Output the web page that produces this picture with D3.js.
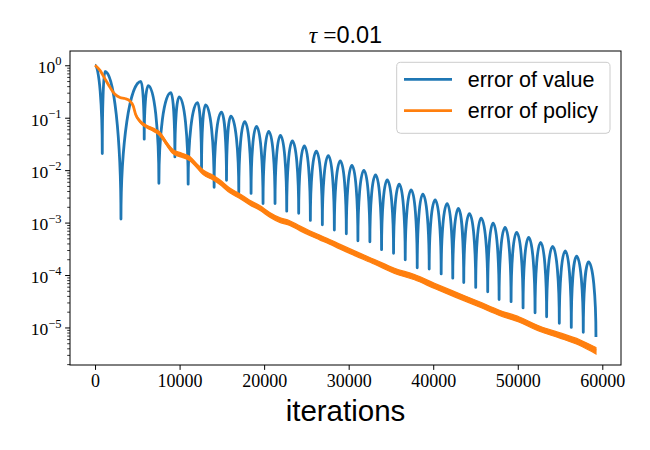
<!DOCTYPE html>
<html><head><meta charset="utf-8">
<script src="https://cdn.jsdelivr.net/npm/d3@7"></script>
<style>body{margin:0;background:#fff} svg{display:block}</style>
</head><body><svg id="c" width="650" height="450"></svg>
<script>
// ---- data ----
const seriesNames = ["error of value", "error of policy"];
const seriesColors = ["#1f77b4", "#ff7f0e"];

// error of value: successive extremes (peak, dip, peak, dip, ...)
const valueIter = [0, 857, 1176, 3065, 5428, 5817, 6290, 7553, 8971, 9444, 9952, 11014, 12125, 12597,
  13069, 14085, 14958, 15549, 16057, 17002, 17712, 18455, 19092, 19872, 20545, 21289, 21927, 22671,
  23344, 24088, 24761, 25469, 26178, 26887, 27596, 28305, 29013, 29722, 30383, 31092, 31801, 32509,
  33182, 33891, 34564, 35308, 35981, 36690, 37399, 38107, 38769, 39524, 40233, 40942, 41651, 42312,
  42985, 43611, 44284, 45028, 45666, 46445, 47083, 47792, 48500, 49209, 49871, 50627, 51288, 52044,
  52705, 53414, 54123, 54914, 55622, 56331, 56957, 57749, 58374, 59248];
const valueErr = [1.0, 0.0207, 0.76, 1.17e-3, 0.49, 0.039, 0.41, 5.6e-3, 0.30, 0.0179, 0.25, 5.4e-3, 0.194, 0.011,
  0.175, 4.7e-3, 0.128, 6.4e-3, 0.107, 3.8e-3, 0.084, 3.6e-3, 0.068, 2.3e-3, 0.055, 2.3e-3, 0.046, 1.65e-3,
  0.036, 1.5e-3, 0.029, 1.1e-3, 0.023, 9.1e-4, 0.019, 7.2e-4, 0.015, 6.1e-4, 0.0123, 4.5e-4, 9.9e-3, 4.3e-4,
  8.1e-3, 3.05e-4, 6.5e-3, 2.6e-4, 5.4e-3, 1.95e-4, 4.2e-3, 1.37e-4, 3.5e-3, 1.3e-4, 2.7e-3, 1.05e-4, 2.3e-3, 8.7e-5,
  1.86e-3, 7.2e-5, 1.48e-3, 5.8e-5, 1.22e-3, 4.8e-5, 9.8e-4, 3.4e-5, 8.1e-4, 3.1e-5, 6.5e-4, 2.36e-5, 5.2e-4, 1.9e-5,
  4.2e-4, 1.6e-5, 3.5e-4, 1.2e-5, 2.9e-4, 1.0e-5, 2.3e-4, 8.1e-6, 1.77e-4, 6.6e-6];

// error of policy: centre of the (noisy) curve and half-thickness of its noise band (decades)
const policyIter = [0, 585, 1176, 1766, 2357, 2947, 3538, 4128, 4518, 4805, 5310, 6100, 6880, 7671, 8462,
  9242, 10234, 11215, 12006, 12786, 13968, 14758, 15939, 17120, 18301, 19482, 20663, 21844, 23025, 24206,
  25388, 26569, 27750, 28931, 30702, 33064, 35427, 37789, 40151, 42513, 45465, 47827, 50190, 52552, 54914,
  57276, 59248];
const policyErr = [1.0, 0.80, 0.55, 0.38, 0.28, 0.243, 0.232, 0.209, 0.167, 0.115, 0.0855, 0.068, 0.059, 0.049, 0.032,
  0.0224, 0.0193, 0.0166, 0.0123, 0.0091, 0.0072, 0.0059, 0.0041, 0.0032, 0.0024, 0.0019, 0.00141, 0.00112, 0.00098, 0.00078,
  0.00063, 0.00052, 0.00043, 0.00035, 0.00026, 0.000178, 0.00012, 9.1e-5, 6.2e-5, 4.3e-5, 2.75e-5, 1.9e-5, 1.41e-5, 9.5e-6, 7.1e-6,
  5.2e-6, 3.6e-6];
const policySpread = [0, 0, 0, 0, 0, 0, 0, 0, 0.008, 0.015, 0.02, 0.025, 0.03, 0.035, 0.035,
  0.04, 0.04, 0.04, 0.04, 0.045, 0.045, 0.045, 0.045, 0.045, 0.045, 0.045, 0.045, 0.045, 0.045, 0.045,
  0.045, 0.045, 0.045, 0.045, 0.045, 0.045, 0.05, 0.05, 0.05, 0.05, 0.05, 0.05, 0.05, 0.05, 0.05,
  0.055, 0.06];

const xTickValues = [0, 10000, 20000, 30000, 40000, 50000, 60000];
const yTickExponents = [0, -1, -2, -3, -4, -5];
const titleParts = ["τ", " =", "0.01"];
const xLabel = "iterations";

// ---- layout ----
const L = 70, R = 621, T = 51, B = 365;
const svg = d3.select("#c");

const allIter = valueIter.concat(policyIter);
const xmin = d3.min(allIter), xmax = d3.max(allIter), xpad = 0.05 * (xmax - xmin);
const x = d3.scaleLinear().domain([xmin - xpad, xmax + xpad]).range([L, R]);

const allErr = valueErr.concat(policyErr);
const lmin = Math.log10(d3.min(allErr)), lmax = Math.log10(d3.max(allErr)), lpad = 0.05 * (lmax - lmin);
const y = d3.scaleLog().domain([Math.pow(10, lmin - lpad), Math.pow(10, lmax + lpad)]).range([B, T]);

svg.append("defs").append("clipPath").attr("id", "clip")
  .append("rect").attr("x", L).attr("y", T).attr("width", R - L).attr("height", B - T);

// arch curve: quarter-ellipse-like segments between extremes
function archCurve(context) {
  let px, py, i = 0;
  const k = 0.5523;
  return {
    areaStart() {}, areaEnd() {},
    lineStart() { i = 0; },
    lineEnd() {},
    point(xx, yy) {
      if (i === 0) context.moveTo(xx, yy);
      else if (yy < py) context.bezierCurveTo(px, py + k * (yy - py), xx - k * (xx - px), yy, xx, yy);
      else context.bezierCurveTo(px + k * (xx - px), py, xx, yy - k * (yy - py), xx, yy);
      px = xx; py = yy; i++;
    }
  };
}

const plot = svg.append("g").attr("clip-path", "url(#clip)");

const valuePts = valueIter.map((d, i) => [d, valueErr[i]]);
plot.append("path")
  .attr("d", d3.line().x(d => x(d[0])).y(d => y(d[1])).curve(archCurve)(valuePts))
  .attr("fill", "none").attr("stroke", seriesColors[0]).attr("stroke-width", 2.8)
  .attr("stroke-linejoin", "round").attr("stroke-linecap", "butt");

const policyPts = policyIter.map((d, i) => [d, policyErr[i], policySpread[i]]);
plot.append("path")
  .attr("d", d3.area().x(d => x(d[0]))
    .y0(d => y(d[1] / Math.pow(10, d[2])))
    .y1(d => y(d[1] * Math.pow(10, d[2])))
    .curve(d3.curveMonotoneX)(policyPts))
  .attr("fill", seriesColors[1]).attr("stroke", seriesColors[1]).attr("stroke-width", 1.2);
plot.append("path")
  .attr("d", d3.line().x(d => x(d[0])).y(d => y(d[1])).curve(d3.curveMonotoneX)(policyPts))
  .attr("fill", "none").attr("stroke", seriesColors[1]).attr("stroke-width", 2.8)
  .attr("stroke-linecap", "butt");

// ---- axes ----
const serif = "'Liberation Serif', 'DejaVu Serif', serif";
const sans = "'Liberation Sans', Arial, sans-serif";

const gx = svg.append("g").attr("transform", `translate(0,${B})`)
  .call(d3.axisBottom(x).tickValues(xTickValues).tickSize(4.9).tickPadding(4).tickFormat(d => String(d)));
gx.select(".domain").remove();
gx.selectAll("line").attr("stroke-width", 1);
gx.selectAll("text").attr("font-family", serif).attr("font-size", 18).attr("fill", "#000");

const yMajors = yTickExponents.map(e => Math.pow(10, e));
const gy = svg.append("g").attr("transform", `translate(${L},0)`)
  .call(d3.axisLeft(y).tickValues(yMajors).tickSize(4.9).tickPadding(3.5).tickFormat(""));
gy.select(".domain").remove();
gy.selectAll("line").attr("stroke-width", 1);
gy.selectAll(".tick text").each(function(d, i) {
  const t = d3.select(this).attr("font-family", serif).attr("font-size", 17.5).attr("fill", "#000").attr("dy", "0.42em");
  const e = yTickExponents[i];
  t.append("tspan").text("10");
  t.append("tspan").attr("font-size", 12.5).attr("dy", "-0.62em").text(e === 0 ? "0" : "\u2212" + Math.abs(e));
});

const [dLo, dHi] = y.domain();
const minors = [];
for (let e = Math.floor(Math.log10(dLo)); e <= Math.ceil(Math.log10(dHi)); e++)
  for (let m = 2; m <= 9; m++) { const v = m * Math.pow(10, e); if (v >= dLo && v <= dHi) minors.push(v); }
const gym = svg.append("g").attr("transform", `translate(${L},0)`)
  .call(d3.axisLeft(y).tickValues(minors).tickSize(2.8).tickFormat(""));
gym.select(".domain").remove();
gym.selectAll("line").attr("stroke-width", 0.8);

// frame
svg.append("rect").attr("x", L).attr("y", T).attr("width", R - L).attr("height", B - T)
  .attr("fill", "none").attr("stroke", "#000").attr("stroke-width", 1);

// title
const title = svg.append("text").attr("x", (L + R) / 2).attr("y", 43).attr("text-anchor", "middle")
  .attr("font-size", 23.5).attr("fill", "#000");
title.append("tspan").attr("font-family", serif).attr("font-style", "italic").text(titleParts[0]);
title.append("tspan").attr("font-family", serif).text(titleParts[1]);
title.append("tspan").attr("font-family", sans).text(titleParts[2]);

// x label
svg.append("text").attr("x", (L + R) / 2).attr("y", 421).attr("text-anchor", "middle")
  .attr("font-family", sans).attr("font-size", 29.5).attr("fill", "#000").text(xLabel);

// legend
const lg = svg.append("g");
lg.append("rect").attr("x", 396.7).attr("y", 62.3).attr("width", 213.3).attr("height", 71).attr("rx", 4)
  .attr("fill", "#fff").attr("fill-opacity", 0.8).attr("stroke", "#cccccc").attr("stroke-width", 1);
seriesNames.forEach((n, i) => {
  const yy = 79.3 + i * 31.4;
  lg.append("line").attr("x1", 404).attr("x2", 452).attr("y1", yy).attr("y2", yy)
    .attr("stroke", seriesColors[i]).attr("stroke-width", 2.8);
  lg.append("text").attr("x", 467.7).attr("y", yy).attr("dy", "0.35em")
    .attr("font-family", sans).attr("font-size", 21.5).attr("fill", "#000").text(n);
});
</script>
</body></html>
